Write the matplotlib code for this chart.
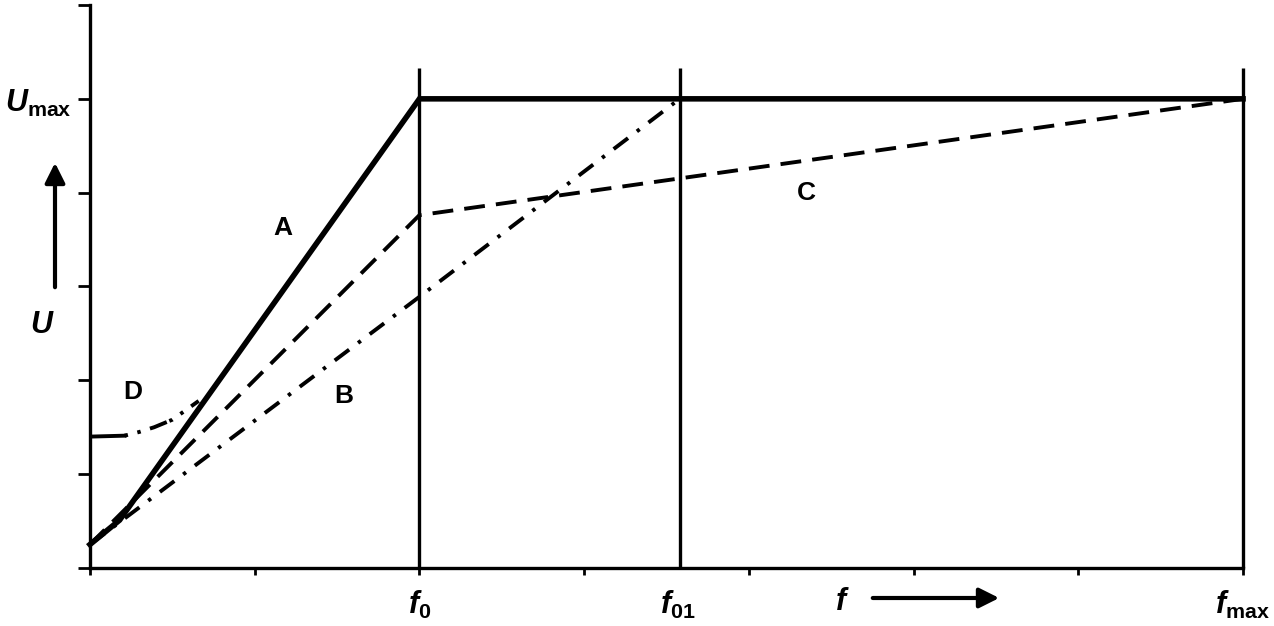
#!/usr/bin/env python3
"""U/f characteristic curves A-D, redrawn from a scanned figure."""
import matplotlib.pyplot as plt
from matplotlib.patches import FancyArrowPatch

plt.rcParams["font.family"] = ["Liberation Sans", "DejaVu Sans"]
plt.rcParams["mathtext.fontset"] = "custom"
plt.rcParams["mathtext.it"] = "Liberation Sans:italic:bold"
plt.rcParams["mathtext.rm"] = "Liberation Sans:bold"
plt.rcParams["lines.scale_dashes"] = False

# frequency axis in tick units (0..7), voltage in tick units (0..6)
F0 = 2.0
F01 = 3.58
FMAX = 7.0
UMAX = 5.0

a_f = [0.0, 0.18, F0, FMAX]
a_u = [0.25, 0.51, UMAX, UMAX]

b_f = [0.0, F0, F01, FMAX]
b_u = [0.25, 2.89, UMAX, UMAX]

c_f = [0.0, F0, FMAX]
c_u = [0.25, 3.76, UMAX]

d_f = [0.0, 0.21, 0.30, 0.39, 0.50, 0.66]
d_u = [1.40, 1.41, 1.45, 1.50, 1.58, 1.78]

curve_labels = ["A", "B", "C", "D"]
label_pos = [(1.17, 3.62), (1.54, 1.83), (4.35, 4.0), (0.26, 1.88)]

fig = plt.figure(figsize=(12.74, 6.26), dpi=100)
ax = fig.add_axes([0.0706, 0.0927, 0.9051, 0.8993])
ax.set_xlim(0, 7)
ax.set_ylim(0, 6)

for xv in (F0, F01, FMAX):
    ax.plot([xv, xv], [0, 5.33], color="black", lw=2.4, solid_capstyle="butt", clip_on=False)

ax.plot(c_f, c_u, color="black", lw=2.8, dashes=(15, 8), clip_on=False)
ax.plot(b_f[:3], b_u[:3], color="black", lw=2.8, dashes=(13, 8, 2.5, 8))
ax.plot(d_f[:2], d_u[:2], color="black", lw=2.8)
ax.plot(d_f[1:], d_u[1:], color="black", lw=2.8, dashes=(2.5, 7, 2.5, 7, 13, 2))
ax.plot(a_f, a_u, color="black", lw=4, solid_joinstyle="miter", clip_on=False)

for name, (xl, yl) in zip(curve_labels, label_pos):
    ax.text(xl, yl, name, fontsize=19, fontweight="bold", ha="center", va="center")

for side in ("top", "right"):
    ax.spines[side].set_visible(False)
for side in ("left", "bottom"):
    ax.spines[side].set_linewidth(2.4)
ax.set_xticks(range(8))
ax.set_yticks(range(7))
ax.tick_params(axis="y", direction="out", length=9, width=2, labelleft=False)
ax.tick_params(axis="x", direction="out", length=5, width=2, labelbottom=False)


def fx(px):
    return px / 1274


def fy(py):
    return 1 - py / 626


fig.text(fx(5), fy(103), r"$U_{\rm max}$", fontsize=22, va="center", ha="left")
fig.text(fx(42), fy(325), r"$U$", fontsize=22, va="center", ha="center")
fig.text(fx(420), fy(605), r"$f_0$", fontsize=22, va="center", ha="center")
fig.text(fx(678), fy(605), r"$f_{01}$", fontsize=22, va="center", ha="center")
fig.text(fx(842), fy(602), r"$f$", fontsize=22, va="center", ha="center")
fig.text(fx(1242), fy(605), r"$f_{\rm max}$", fontsize=22, va="center", ha="center")

for start, end in (((fx(55), fy(290)), (fx(55), fy(160))),
                   ((fx(870), fy(598)), (fx(1002), fy(598)))):
    fig.add_artist(FancyArrowPatch(start, end, transform=fig.transFigure,
                                   arrowstyle="-|>,head_length=12,head_width=6",
                                   color="black", lw=3))

fig.savefig("out.png", dpi=100)
